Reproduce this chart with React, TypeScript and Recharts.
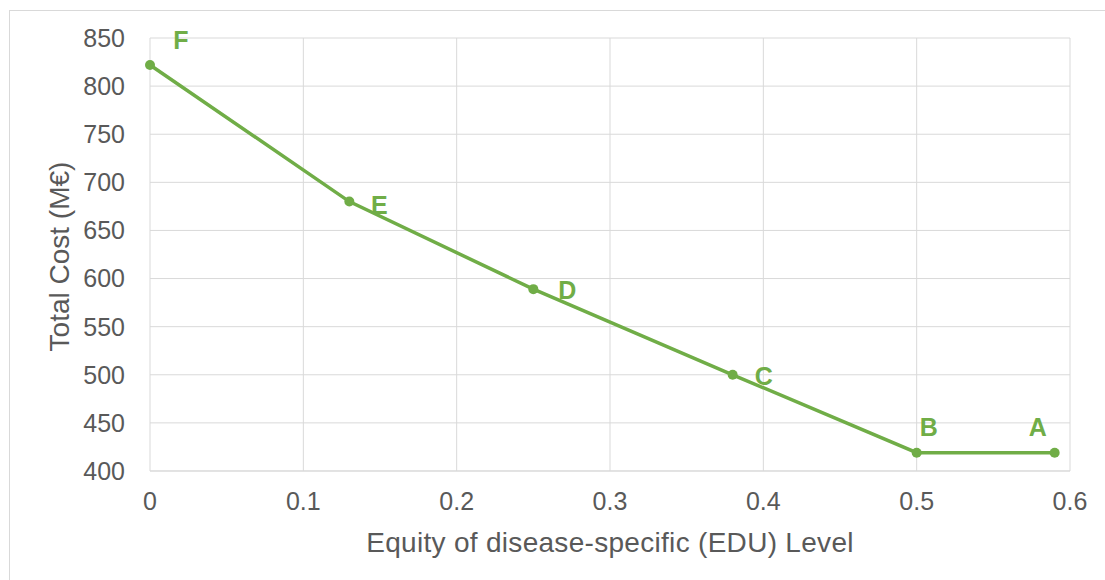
import React from 'react';
import { LineChart, Line, XAxis, YAxis, CartesianGrid, LabelList } from 'recharts';

// Data
const equityLevels = [0, 0.13, 0.25, 0.38, 0.5, 0.59];
const totalCosts = [822, 680, 589, 500, 419, 419];
const pointNames = ['F', 'E', 'D', 'C', 'B', 'A'];
const xTicks = [0, 0.1, 0.2, 0.3, 0.4, 0.5, 0.6];
const yTicks = [400, 450, 500, 550, 600, 650, 700, 750, 800, 850];

const data = equityLevels.map((x, i) => ({ x, cost: totalCosts[i], name: pointNames[i] }));

// label offsets relative to each point, like the Excel layout
const labelOffset: Record<string, [number, number]> = {
  F: [31, -25],
  E: [30, 3],
  D: [34, 1],
  C: [31, 1],
  B: [12, -26],
  A: [-17, -26],
};

const GREEN = '#70ad47';
const GRID = '#d9d9d9';
const TEXT = '#595959';
const FONT = '"Liberation Sans", Arial, sans-serif';

const PointLabel = (props: any) => {
  const { x, y, value } = props;
  const [dx, dy] = labelOffset[value] || [20, 0];
  return (
    <text x={x + dx} y={y + dy} textAnchor="middle" dominantBaseline="central"
      fill={GREEN} fontSize={25} fontWeight="bold" fontFamily={FONT}>
      {value}
    </text>
  );
};

const YTitle = (props: any) => {
  const { viewBox } = props;
  const cx = viewBox.x + 59;
  const cy = viewBox.y + viewBox.height / 2 + 2;
  return (
    <text x={cx} y={cy} transform={`rotate(-90, ${cx}, ${cy})`} textAnchor="middle"
      dominantBaseline="central" fill={TEXT} fontSize={28} fontFamily={FONT}>
      Total Cost (M€)
    </text>
  );
};

export default function App() {
  return (
    <div style={{ position: 'absolute', left: 0, top: 0, width: 1105, height: 580, overflow: 'hidden', background: '#fff' }}>
      <div style={{ position: 'absolute', left: 9, top: 10, width: 1200, height: 700, border: '1px solid #d9d9d9' }} />
      <div style={{ position: 'absolute', left: 0, top: 0 }}>
        <LineChart width={1105} height={580} data={data} margin={{ top: 38, right: 35, left: 0, bottom: 0 }}>
          <CartesianGrid stroke={GRID} strokeWidth={1} />
          <XAxis
            dataKey="x"
            type="number"
            domain={[0, 0.6]}
            ticks={xTicks}
            tickFormatter={(v: number) => (v === 0 ? '0' : String(v))}
            axisLine={{ stroke: GRID }}
            tickLine={false}
            tickMargin={15}
            height={109}
            tick={{ fill: TEXT, fontSize: 25, fontFamily: FONT }}
            label={{ value: 'Equity of disease-specific (EDU) Level', position: 'insideBottom', offset: 28, fill: TEXT, fontSize: 28, fontFamily: FONT, letterSpacing: 0.3 }}
          />
          <YAxis
            type="number"
            domain={[400, 850]}
            ticks={yTicks}
            axisLine={false}
            tickLine={false}
            tickMargin={19}
            width={150}
            tick={{ fill: TEXT, fontSize: 25, fontFamily: FONT }}
            label={<YTitle />}
          />
          <Line
            type="linear"
            dataKey="cost"
            stroke={GREEN}
            strokeWidth={3.5}
            dot={{ r: 5, fill: GREEN, stroke: GREEN, strokeWidth: 0 }}
            isAnimationActive={false}
          >
            <LabelList dataKey="name" content={<PointLabel />} />
          </Line>
        </LineChart>
      </div>
    </div>
  );
}
